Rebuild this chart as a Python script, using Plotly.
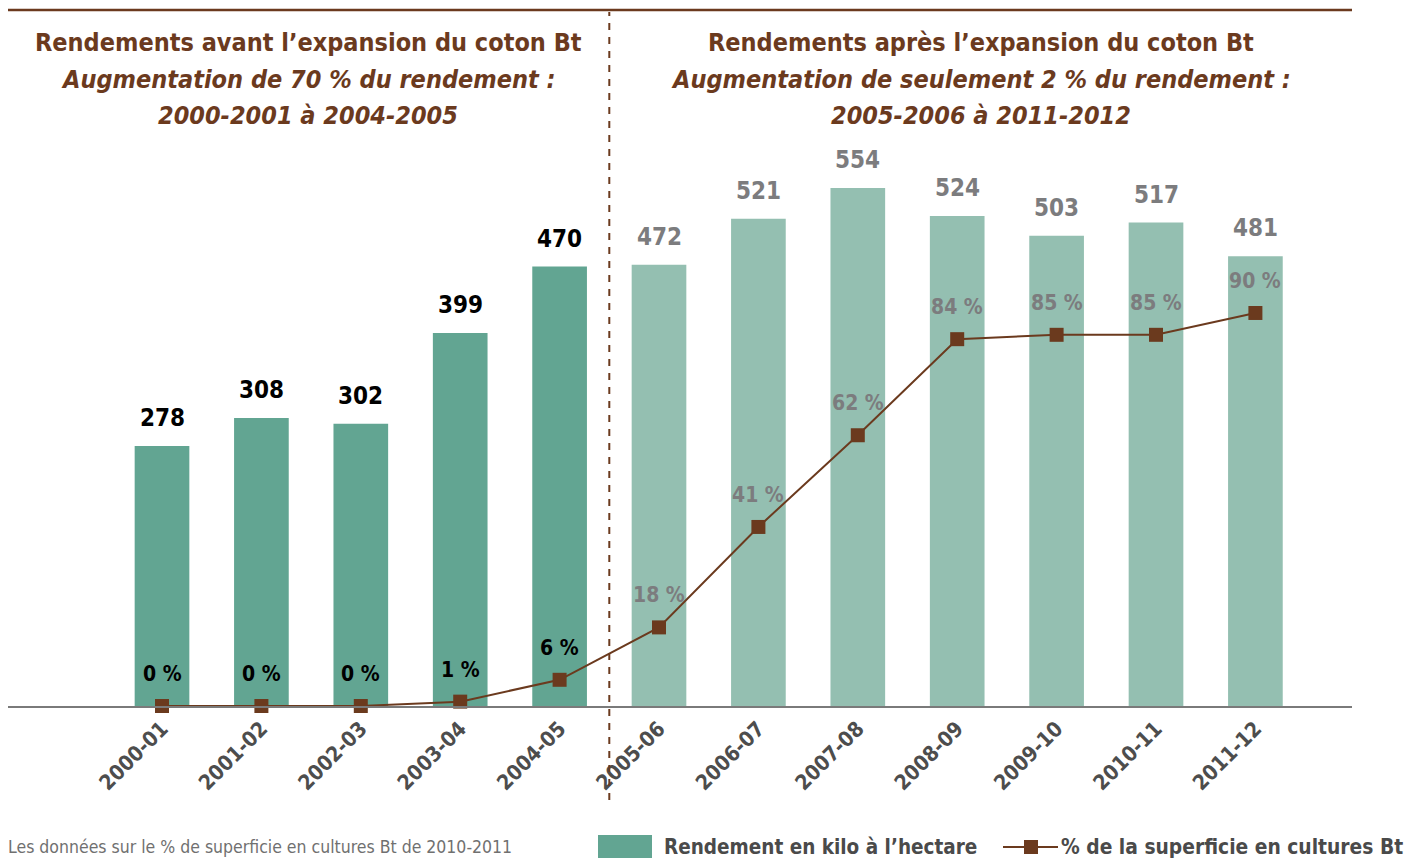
import plotly.graph_objects as go

# data
campagnes = ["2000-01", "2001-02", "2002-03", "2003-04", "2004-05", "2005-06",
             "2006-07", "2007-08", "2008-09", "2009-10", "2010-11", "2011-12"]
rendement = [278, 308, 302, 399, 470, 472, 521, 554, 524, 503, 517, 481]
part_bt = [0, 0, 0, 1, 6, 18, 41, 62, 84, 85, 85, 90]
n_avant = 5  # campaigns before the Bt expansion

titre_avant = ["<b>Rendements avant l’expansion du coton Bt</b>",
               "<b><i>Augmentation de 70 % du rendement :</i></b>",
               "<b><i>2000-2001 à 2004-2005</i></b>"]
titre_apres = ["<b>Rendements après l’expansion du coton Bt</b>",
               "<b><i>Augmentation de seulement 2 % du rendement :</i></b>",
               "<b><i>2005-2006 à 2011-2012</i></b>"]

W, H = 1419, 863
OFF = 8  # page body margin shifts the figure
FONT = "DejaVu Sans Condensed, sans-serif"
BROWN = "#6b3a1e"
DARK_TEAL = "#62a592"
LIGHT_TEAL = "#94bfb1"
GREY_TXT = "#7c7c7e"

def px_x(p):
    return (p - OFF) / W

def px_y(p):
    return 1 - (p - OFF) / H

bar_colors = [DARK_TEAL if i < n_avant else LIGHT_TEAL for i in range(len(campagnes))]
lab_colors = ["black" if i < n_avant else GREY_TXT for i in range(len(campagnes))]

fig = go.Figure()
fig.add_trace(go.Bar(x=campagnes, y=rendement, marker=dict(color=bar_colors, line=dict(width=0)),
                     width=0.55, showlegend=False, hoverinfo="skip"))
fig.add_trace(go.Scatter(x=campagnes, y=part_bt, yaxis="y2", mode="lines+markers",
                         line=dict(color=BROWN, width=2),
                         marker=dict(symbol="square", size=14, color=BROWN),
                         cliponaxis=False, showlegend=False, hoverinfo="skip"))

annotations = []
for i, c in enumerate(campagnes):
    annotations.append(dict(x=c, y=rendement[i], xref="x", yref="y", text=f"<b>{rendement[i]}</b>",
                            showarrow=False, yshift=28,
                            font=dict(family=FONT, size=24, color=lab_colors[i])))
    annotations.append(dict(x=c, y=part_bt[i], xref="x", yref="y2", text=f"<b>{part_bt[i]} %</b>",
                            showarrow=False, yshift=32,
                            font=dict(family=FONT, size=21, color=lab_colors[i])))

# section titles, one annotation per line
for lines, cx in ((titre_avant, 308), (titre_apres, 981)):
    for txt, cy in zip(lines, (43, 79, 116)):
        annotations.append(dict(x=px_x(cx), y=px_y(cy), xref="paper", yref="paper", showarrow=False,
                                xanchor="center", yanchor="middle", text=txt,
                                font=dict(family=FONT, size=25, color=BROWN)))

# footnote
annotations.append(dict(x=px_x(6), y=px_y(847), xref="paper", yref="paper", showarrow=False,
                        xanchor="left", yanchor="middle",
                        text="Les données sur le % de superficie en cultures Bt de 2010-2011",
                        font=dict(family=FONT, size=17.5, color="#707070")))
# legend texts
annotations.append(dict(x=px_x(662), y=px_y(847), xref="paper", yref="paper", showarrow=False,
                        xanchor="left", yanchor="middle", text="<b>Rendement en kilo à l’hectare</b>",
                        font=dict(family=FONT, size=20.5, color="#4a4a4a")))
annotations.append(dict(x=px_x(1059), y=px_y(847), xref="paper", yref="paper", showarrow=False,
                        xanchor="left", yanchor="middle", text="<b>% de la superficie en cultures Bt</b>",
                        font=dict(family=FONT, size=20.8, color="#4a4a4a")))

shapes = [
    # top rule
    dict(type="line", xref="paper", yref="paper", x0=px_x(8), x1=px_x(1352), y0=px_y(10), y1=px_y(10),
         line=dict(color=BROWN, width=2.5)),
    # separator between periods
    dict(type="line", xref="x", yref="paper", x0=n_avant - 0.5, x1=n_avant - 0.5,
         y0=px_y(800), y1=px_y(12), line=dict(color=BROWN, width=2, dash="7px,7px")),
    # legend symbols
    dict(type="rect", xref="paper", yref="paper", x0=px_x(598), x1=px_x(652), y0=px_y(858), y1=px_y(835),
         fillcolor=DARK_TEAL, line=dict(width=0)),
    dict(type="line", xref="paper", yref="paper", x0=px_x(1003), x1=px_x(1058), y0=px_y(847), y1=px_y(847),
         line=dict(color=BROWN, width=2)),
    dict(type="rect", xref="paper", yref="paper", x0=px_x(1024), x1=px_x(1038), y0=px_y(854), y1=px_y(840),
         fillcolor=BROWN, line=dict(width=0)),
]

top, base = 150, 706
step = 99.4  # px between categories
fig.update_layout(
    width=W, height=H, margin=dict(l=0, r=0, t=0, b=0),
    paper_bgcolor="white", plot_bgcolor="white",
    xaxis=dict(type="category", domain=[0, px_x(1352)],
               range=[(OFF - 162) / step, (1352 - 162) / step], showgrid=False,
               showline=True, linecolor="#7a7a7a", linewidth=2, ticks="", automargin=False,
               tickangle=-45, tickfont=dict(family=FONT, size=21, color="#4d4d4d"),
               tickprefix="<b>", ticksuffix="</b>"),
    yaxis=dict(domain=[px_y(base), px_y(top)], range=[0, (base - top) / 0.935],
               visible=False, showgrid=False),
    yaxis2=dict(domain=[px_y(base), px_y(top)], range=[0, (base - top) / 4.367], overlaying="y",
                visible=False, showgrid=False),
    annotations=annotations, shapes=shapes, bargap=0.45,
)

fig.write_html("out.html")
